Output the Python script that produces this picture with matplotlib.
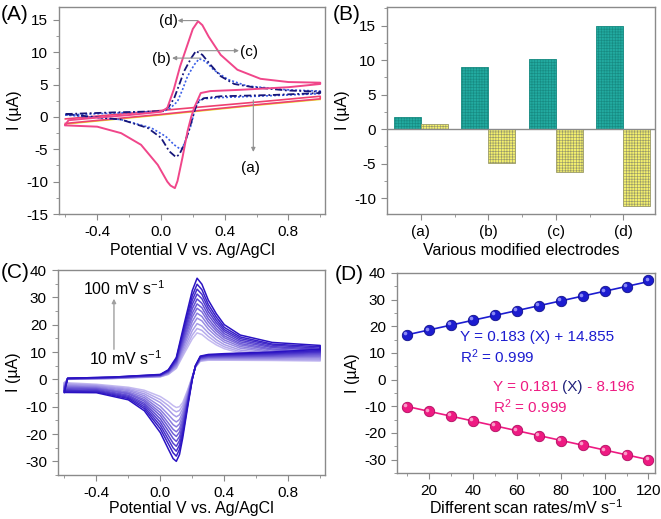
import numpy as np
import matplotlib.pyplot as plt
from matplotlib.ticker import MultipleLocator, FixedLocator
from matplotlib.colors import LinearSegmentedColormap
import matplotlib.transforms as mtransforms

plt.rcParams['font.family'] = ['Liberation Sans', 'DejaVu Sans']
plt.rcParams['mathtext.fontset'] = 'custom'
plt.rcParams['mathtext.rm'] = 'Liberation Sans'
plt.rcParams['mathtext.it'] = 'Liberation Sans:italic'
plt.rcParams['axes.unicode_minus'] = False
plt.rcParams['hatch.linewidth'] = 0.45

# ---------------- (A) CVs of the electrodes ----------------
a_fwd_E = [-0.6, 0.0, 0.6, 1.0]
a_fwd_I = [-0.3, 1.0, 2.3, 3.2]
a_rev_E = [1.0, 0.6, 0.0, -0.6]
a_rev_I = [2.8, 1.9, 0.4, -1.0]
a2_E = [-0.6, 0.0, 0.6, 1.0]
a2_I = [-1.1, 0.3, 1.8, 2.7]

b_fwd_E = [-0.6, -0.3, 0.02, 0.06, 0.104, 0.135, 0.167, 0.21, 0.24, 0.28, 0.33, 0.42, 0.54, 0.79, 1.0]
b_fwd_I = [0.3, 0.6, 0.9, 1.4, 2.4, 4.2, 6.3, 8.1, 9.0, 8.6, 7.3, 5.8, 4.8, 4.2, 4.0]
b_rev_E = [1.0, 0.7, 0.375, 0.25, 0.22, 0.19, 0.156, 0.135, 0.12, 0.083, 0.03, -0.06, -0.25, -0.6]
b_rev_I = [3.6, 3.3, 3.0, 2.8, 1.9, -1.2, -3.5, -4.8, -4.95, -4.3, -3.0, -1.7, -0.4, 0.3]

c_fwd_E = [-0.6, -0.3, 0.02, 0.05, 0.083, 0.115, 0.146, 0.19, 0.22, 0.26, 0.31, 0.375, 0.46, 0.58, 0.79, 1.0]
c_fwd_I = [0.45, 0.7, 0.9, 1.6, 2.9, 5.0, 7.1, 9.1, 10.2, 9.6, 8.1, 6.3, 5.1, 4.6, 4.1, 3.9]
c_rev_E = [1.0, 0.7, 0.375, 0.27, 0.23, 0.21, 0.18, 0.146, 0.115, 0.094, 0.052, 0.0, -0.083, -0.25, -0.46, -0.6]
c_rev_I = [3.7, 3.4, 3.2, 2.9, 2.2, 0.9, -1.7, -4.3, -5.8, -6.2, -5.3, -3.2, -1.7, -0.4, 0.1, 0.45]

d_fwd_E = [-0.6, -0.58, -0.4, -0.2, 0.0, 0.04, 0.08, 0.12, 0.16, 0.2, 0.233, 0.26, 0.3, 0.375, 0.48, 0.625, 0.8, 1.0]
d_fwd_I = [-1.2, -0.5, -0.1, 0.3, 0.8, 1.4, 4.2, 7.8, 10.7, 13.6, 14.8, 14.2, 12.4, 9.6, 7.3, 5.9, 5.4, 5.3]
d_rev_E = [1.0, 0.8, 0.5, 0.31, 0.25, 0.21, 0.19, 0.167, 0.135, 0.104, 0.0875, 0.06, 0.04, -0.02, -0.125, -0.25, -0.4, -0.6]
d_rev_I = [5.1, 4.6, 4.2, 4.0, 3.7, 1.5, 0.0, -2.2, -6.3, -9.9, -11.0, -10.6, -10.0, -7.4, -4.3, -2.5, -1.5, -1.3]

# ---------------- (B) peak currents ----------------
electrodes = ['(a)', '(b)', '(c)', '(d)']
ipa_B = [1.8, 9.0, 10.2, 14.9]
ipc_B = [0.8, -4.9, -6.2, -11.2]

# ---------------- (C) CVs at scan rates 10-120 mV/s ----------------
scan_rates = [10, 20, 30, 40, 50, 60, 70, 80, 90, 100, 110, 120]
cv_E_fwd = [-0.6, -0.58, -0.3, 0.0, 0.05, 0.1, 0.15, 0.2, 0.23, 0.26, 0.3, 0.35, 0.4, 0.5, 0.7, 1.0]
cv_I_fwd = [
    [-1.2, 0.0, 0.3, 0.9, 1.8, 4.0, 9.5, 14.8, 17.0, 16.4, 14.5, 12.6, 11.2, 9.6, 8.4, 7.6],
    [-1.5, 0.0, 0.3, 1.0, 1.9, 4.3, 10.4, 16.2, 18.6, 17.9, 15.7, 13.5, 11.9, 10.1, 8.8, 8.0],
    [-1.8, 0.1, 0.4, 1.1, 2.1, 4.7, 11.4, 17.8, 20.4, 19.5, 17.0, 14.5, 12.7, 10.7, 9.3, 8.4],
    [-2.2, 0.1, 0.4, 1.1, 2.3, 5.1, 12.5, 19.6, 22.4, 21.4, 18.4, 15.7, 13.6, 11.4, 9.8, 8.9],
    [-2.5, 0.1, 0.5, 1.2, 2.4, 5.4, 13.5, 21.2, 24.2, 23.0, 19.7, 16.7, 14.4, 12.0, 10.2, 9.3],
    [-2.8, 0.2, 0.5, 1.3, 2.6, 5.8, 14.5, 22.8, 26.0, 24.7, 21.0, 17.7, 15.2, 12.6, 10.7, 9.8],
    [-3.1, 0.2, 0.6, 1.4, 2.7, 6.1, 15.3, 24.2, 27.6, 26.2, 22.2, 18.6, 15.9, 13.1, 11.1, 10.1],
    [-3.4, 0.2, 0.6, 1.5, 2.9, 6.5, 16.3, 25.8, 29.4, 27.8, 23.5, 19.7, 16.7, 13.7, 11.6, 10.6],
    [-3.8, 0.3, 0.7, 1.5, 3.0, 6.8, 17.3, 27.4, 31.2, 29.5, 24.8, 20.7, 17.5, 14.3, 12.0, 11.0],
    [-4.1, 0.3, 0.7, 1.6, 3.2, 7.2, 18.3, 29.0, 33.0, 31.1, 26.1, 21.7, 18.2, 14.9, 12.5, 11.4],
    [-4.4, 0.4, 0.8, 1.7, 3.3, 7.6, 19.3, 30.6, 34.8, 32.8, 27.4, 22.8, 19.0, 15.5, 12.9, 11.9],
    [-4.8, 0.4, 0.8, 1.8, 3.5, 8.0, 20.5, 32.5, 37.0, 34.8, 29.0, 24.0, 20.0, 16.2, 13.5, 12.4],
]
cv_E_rev = [1.0, 0.7, 0.4, 0.3, 0.25, 0.22, 0.2, 0.17, 0.14, 0.12, 0.1, 0.08, 0.05, 0.0, -0.1, -0.2, -0.4, -0.6]
cv_I_rev = [
    [6.7, 6.9, 7.0, 7.0, 6.6, 4.5, 1.0, -4.0, -8.5, -10.0, -10.3, -9.6, -8.2, -6.3, -4.0, -2.9, -1.8, -1.2],
    [7.0, 7.2, 7.2, 7.2, 6.8, 4.5, 0.9, -4.5, -9.5, -11.4, -11.9, -11.2, -9.6, -7.4, -4.6, -3.3, -2.1, -1.5],
    [7.4, 7.4, 7.4, 7.4, 6.9, 4.6, 0.8, -5.1, -10.7, -13.0, -13.7, -12.9, -11.1, -8.5, -5.3, -3.7, -2.3, -1.8],
    [7.9, 7.7, 7.7, 7.6, 7.1, 4.6, 0.7, -5.8, -12.0, -14.7, -15.6, -14.8, -12.9, -9.9, -6.0, -4.1, -2.6, -2.2],
    [8.3, 8.0, 7.9, 7.8, 7.3, 4.7, 0.6, -6.3, -13.2, -16.3, -17.4, -16.6, -14.4, -11.1, -6.7, -4.6, -2.9, -2.5],
    [8.6, 8.3, 8.1, 8.0, 7.5, 4.7, 0.6, -6.9, -14.4, -17.9, -19.2, -18.3, -16.0, -12.2, -7.4, -5.0, -3.2, -2.8],
    [9.0, 8.5, 8.3, 8.1, 7.6, 4.8, 0.5, -7.5, -15.4, -19.3, -20.9, -19.9, -17.4, -13.3, -8.0, -5.3, -3.4, -3.1],
    [9.4, 8.8, 8.5, 8.3, 7.8, 4.8, 0.4, -8.0, -16.6, -20.9, -22.7, -21.6, -18.9, -14.5, -8.7, -5.8, -3.7, -3.4],
    [9.8, 9.1, 8.7, 8.5, 8.0, 4.9, 0.3, -8.6, -17.7, -22.4, -24.5, -23.4, -20.5, -15.7, -9.3, -6.2, -4.0, -3.8],
    [10.1, 9.4, 8.9, 8.7, 8.1, 4.9, 0.2, -9.2, -18.9, -24.0, -26.3, -25.1, -22.0, -16.9, -10.0, -6.6, -4.3, -4.1],
    [10.5, 9.7, 9.1, 8.9, 8.3, 5.0, 0.1, -9.8, -20.1, -25.6, -28.1, -26.9, -23.6, -18.1, -10.7, -7.0, -4.6, -4.4],
    [11.0, 10.0, 9.4, 9.1, 8.5, 5.0, 0.0, -10.5, -21.5, -27.5, -30.0, -29.0, -25.5, -19.5, -11.5, -7.5, -4.9, -4.8],
]

# ---------------- (D) peak current vs scan rate ----------------
rate_D = [10, 20, 30, 40, 50, 60, 70, 80, 90, 100, 110, 120]
ipa_D = [16.9, 18.5, 20.4, 22.5, 24.4, 25.9, 27.6, 29.4, 31.2, 33.1, 34.7, 37.2]
ipc_D = [-10.2, -11.9, -13.7, -15.4, -17.2, -19.0, -21.0, -22.9, -24.6, -26.5, -28.1, -30.0]

SPINE = '#8a8a8a'
FS = 11
PINK = '#f0468a'


def style(ax):
    for s in ax.spines.values():
        s.set_color(SPINE)
        s.set_linewidth(1.0)
    ax.tick_params(which='both', direction='out', color=SPINE, labelsize=FS,
                   top=False, right=False, pad=4)
    ax.tick_params(which='major', length=4)
    ax.tick_params(which='minor', length=2)


def cv_axes(ax, pad=3):
    ax.set_xlim(-0.64, 1.03)
    ax.xaxis.set_major_locator(FixedLocator([-0.4, 0.0, 0.4, 0.8]))
    ax.xaxis.set_minor_locator(MultipleLocator(0.2))
    ax.xaxis.set_major_formatter(plt.FormatStrFormatter('%.1f'))
    ax.set_xlabel('Potential V vs. Ag/AgCl', fontsize=11.5, labelpad=pad)
    ax.set_ylabel('I (\u00b5A)', fontsize=11.5, labelpad=3)


fig = plt.figure(figsize=(6.61, 5.19), dpi=100)
W, H = 661, 519


def add_ax(l, t, r, b):
    return fig.add_axes([l / W, 1 - b / H, (r - l) / W, (b - t) / H])


axA = add_ax(59, 7, 325, 214)
axB = add_ax(387, 7, 655, 214)
axC = add_ax(58, 270, 325, 475)
axD = add_ax(397, 273, 655, 473)

# ---- A ----
style(axA)
cv_axes(axA)
axA.plot(a2_E, a2_I, color='#e6e020', lw=1.0)
axA.plot(a_fwd_E + a_rev_E, a_fwd_I + a_rev_I, color='#ee4070', lw=1.2)
axA.plot(b_fwd_E + b_rev_E, b_fwd_I + b_rev_I, color='#3b5fe8', lw=1.2, ls=(0, (1.2, 1.2)))
axA.plot(c_fwd_E + c_rev_E, c_fwd_I + c_rev_I, color='#16167a', lw=1.3, ls=(0, (4, 1.5, 1, 1.5)))
axA.plot(d_fwd_E + d_rev_E, d_fwd_I + d_rev_I, color=PINK, lw=1.4)
axA.set_ylim(-15, 17)
axA.yaxis.set_major_locator(MultipleLocator(5))
axA.yaxis.set_minor_locator(MultipleLocator(2.5))

arr = dict(arrowstyle='-|>', color='#909090', lw=0.8, mutation_scale=6,
           shrinkA=0, shrinkB=0)
axA.annotate('', xy=(0.105, 14.9), xytext=(0.23, 14.9), arrowprops=arr)
axA.text(0.05, 14.8, '(d)', fontsize=11, ha='center', va='center')
axA.annotate('', xy=(0.49, 10.25), xytext=(0.24, 10.25), arrowprops=arr)
axA.text(0.555, 10.1, '(c)', fontsize=11, ha='center', va='center')
axA.annotate('', xy=(0.07, 9.1), xytext=(0.25, 9.1), arrowprops=arr)
axA.text(0.0, 9.0, '(b)', fontsize=11, ha='center', va='center')
axA.annotate('', xy=(0.58, -5.4), xytext=(0.58, 2.6), arrowprops=arr)
axA.text(0.565, -7.9, '(a)', fontsize=11, ha='center', va='center')

# ---- B ----
style(axB)
xpos = np.arange(1, len(electrodes) + 1)
axB.bar(xpos - 0.4, ipa_B, width=0.4, align='edge', color='#22aaa0',
        edgecolor='#178b82', lw=0.6, hatch='++++++')
axB.bar(xpos, ipc_B, width=0.4, align='edge', color='#f4f06e',
        edgecolor='#9a9a6a', lw=0.6, hatch='++++++')
axB.axhline(0, color=SPINE, lw=1.0)
axB.set_xlim(0.5, 4.47)
axB.set_ylim(-12.3, 17.7)
axB.set_xticks(xpos)
axB.set_xticklabels(electrodes)
axB.xaxis.set_minor_locator(FixedLocator([1.5, 2.5, 3.5]))
axB.yaxis.set_major_locator(MultipleLocator(5))
axB.yaxis.set_minor_locator(MultipleLocator(2.5))
axB.set_xlabel('Various modified electrodes', fontsize=11.5, labelpad=3)
axB.set_ylabel('I (\u00b5A)', fontsize=11.5, labelpad=3)

# ---- C ----
style(axC)
cv_axes(axC, pad=1)
cmap = LinearSegmentedColormap.from_list('cv', ['#c4baf0', '#2a12c2'])
for k in range(len(scan_rates)):
    col = cmap(k / (len(scan_rates) - 1))
    axC.plot(cv_E_fwd + cv_E_rev, cv_I_fwd[k] + cv_I_rev[k], color=col, lw=1.1)
axC.set_ylim(-35, 40)
axC.yaxis.set_major_locator(MultipleLocator(10))
axC.yaxis.set_minor_locator(MultipleLocator(5))
axC.annotate('', xy=(-0.29, 29.5), xytext=(-0.29, 11), arrowprops=dict(
    arrowstyle='-|>', color='#a0a0a0', lw=1.0, mutation_scale=6, shrinkA=0, shrinkB=0))
axC.text(-0.23, 33, '100 mV s$^{-1}$', fontsize=11.5, ha='center', va='center')
axC.text(-0.22, 7.6, '10 mV s$^{-1}$', fontsize=11.5, ha='center', va='center')

# ---- D ----
style(axD)
BLUE = '#1c1cd0'
PINK_D = '#ee1a82'
pa = np.polyfit(rate_D, ipa_D, 1)
pc = np.polyfit(rate_D, ipc_D, 1)
xr = np.array([rate_D[0], rate_D[-1]])
axD.plot(xr, np.polyval(pa, xr), color=BLUE, lw=1.2, zorder=2)
axD.plot(xr, np.polyval(pc, xr), color=PINK_D, lw=1.2, zorder=2)
axD.plot(rate_D, ipa_D, 'o', ms=7.5, color=BLUE, mec='#10108a', mew=0.6, zorder=3)
axD.plot(rate_D, ipc_D, 'o', ms=7.5, color=PINK_D, mec='#b00c60', mew=0.6, zorder=3)
hl = axD.transData + mtransforms.ScaledTranslation(-1.3 / 72, 1.3 / 72, fig.dpi_scale_trans)
axD.plot(rate_D, ipa_D, 'o', ms=2.6, color='#8a8af5', mew=0, transform=hl, zorder=4)
axD.plot(rate_D, ipc_D, 'o', ms=2.6, color='#fa9cc8', mew=0, transform=hl, zorder=4)
axD.set_xlim(5.3, 123)
axD.set_ylim(-35, 40)
axD.xaxis.set_major_locator(MultipleLocator(20))
axD.xaxis.set_minor_locator(MultipleLocator(10))
axD.yaxis.set_major_locator(MultipleLocator(10))
axD.yaxis.set_minor_locator(MultipleLocator(5))
axD.set_xlabel('Different scan rates/mV s$^{-1}$', fontsize=11.5, labelpad=0)
axD.set_ylabel('I (\u00b5A)', fontsize=11.5, labelpad=3)

axD.text(34, 16.0, 'Y = 0.183 (X) + 14.855', color=BLUE, fontsize=11, va='center')
axD.text(34, 8.7, 'R$^2$ = 0.999', color=BLUE, fontsize=11, va='center')
t1 = axD.text(49, -2.7, 'Y = 0.181 ', color=PINK_D, fontsize=11, va='center')
t2 = axD.annotate('(X)', xy=(1, 0), xycoords=t1, color='#20207a', fontsize=11, va='bottom')
axD.annotate(' - 8.196', xy=(1, 0), xycoords=t2, color=PINK_D, fontsize=11, va='bottom')
axD.text(49, -10.0, 'R$^2$ = 0.999', color=PINK_D, fontsize=11, va='center')

# panel letters
fig.text(1 / W, 1 - 14 / H, '(A)', fontsize=15, va='center', ha='left')
fig.text(333 / W, 1 - 14 / H, '(B)', fontsize=15, va='center', ha='left')
fig.text(1 / W, 1 - 272 / H, '(C)', fontsize=15, va='center', ha='left')
fig.text(335 / W, 1 - 275 / H, '(D)', fontsize=15, va='center', ha='left')

fig.savefig('out.png', dpi=100)
